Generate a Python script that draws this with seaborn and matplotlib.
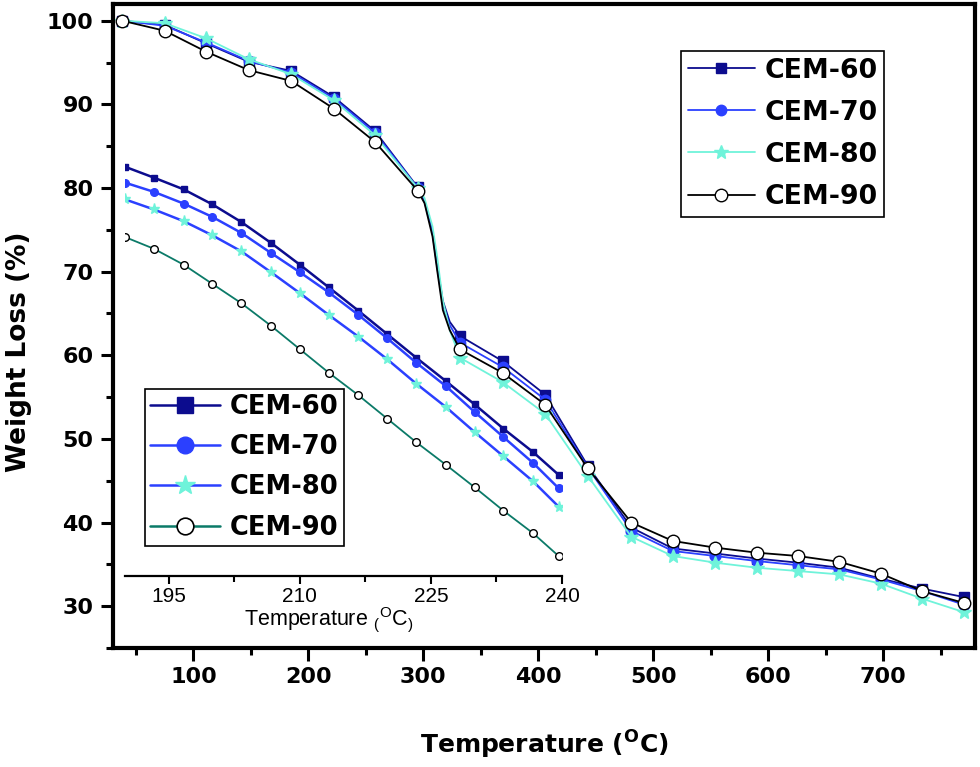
import matplotlib
matplotlib.use('Agg')
import matplotlib.pyplot as plt
import seaborn as sns
from matplotlib.lines import Line2D
from matplotlib.ticker import MultipleLocator

# main TGA curves (temperature in C, weight in %)
temp = [38, 75, 111, 148, 185, 222, 258, 295, 301, 308, 312, 317, 323, 332,
        369, 406, 443, 481, 517, 554, 590, 626, 662, 698, 734, 770]
cem60 = [100, 99.5, 97.3, 95.1, 94.0, 90.9, 86.8, 80.1, 78.5, 74.8, 70.8, 66.5, 64.0, 62.3,
         59.3, 55.3, 46.8, 39.4, 36.9, 36.3, 35.7, 35.2, 34.6, 33.3, 32.1, 31.1]
cem70 = [100, 99.4, 97.4, 95.2, 93.8, 90.7, 86.6, 80.0, 78.4, 74.6, 70.6, 66.0, 63.6, 61.5,
         58.6, 54.7, 46.6, 39.0, 36.6, 36.0, 35.4, 34.9, 34.4, 33.2, 31.8, 30.2]
cem80 = [100, 99.7, 97.9, 95.4, 93.6, 90.5, 86.3, 80.0, 78.8, 75.4, 71.8, 66.5, 63.0, 59.7,
         56.8, 53.0, 45.6, 38.3, 36.0, 35.2, 34.6, 34.2, 33.8, 32.7, 30.9, 29.3]
cem90 = [100, 98.8, 96.3, 94.1, 92.8, 89.5, 85.5, 79.7, 78.2, 74.2, 70.2, 65.4, 63.0, 60.7,
         57.9, 54.1, 46.5, 40.0, 37.8, 37.0, 36.4, 36.0, 35.3, 33.9, 31.8, 30.4]
# points 8-12 only shape the steep drop, they carry no marker
mark_idx = [i for i in range(len(temp)) if not 8 <= i <= 12]

# inset 190-240 C (read against the main y scale)
temp_in = [190, 193.3, 196.7, 200, 203.3, 206.7, 210, 213.3, 216.7, 220,
           223.3, 226.7, 230, 233.3, 236.7, 239.6]
cem60_in = [82.5, 81.2, 79.8, 78.0, 75.9, 73.4, 70.8, 68.1, 65.3, 62.5, 59.7, 56.9, 54.1, 51.2, 48.4, 45.7]
cem70_in = [80.6, 79.5, 78.1, 76.5, 74.6, 72.2, 69.9, 67.5, 64.8, 62.0, 59.1, 56.3, 53.2, 50.2, 47.1, 44.1]
cem80_in = [78.6, 77.4, 76.0, 74.3, 72.4, 69.9, 67.4, 64.8, 62.2, 59.5, 56.6, 53.8, 50.8, 47.9, 44.9, 41.9]
cem90_in = [74.1, 72.7, 70.8, 68.5, 66.2, 63.5, 60.7, 57.9, 55.2, 52.4, 49.6, 46.9, 44.2, 41.4, 38.7, 36.0]

labels = ['CEM-60', 'CEM-70', 'CEM-80', 'CEM-90']
navy = '#0c0c8e'
blue = '#2b40ff'
aqua = '#6ff3da'
teal = '#0b7a68'

sns.set_theme(style='ticks')
plt.rcParams['font.family'] = ['DejaVu Sans']
plt.rcParams['text.color'] = 'black'
plt.rcParams['axes.labelcolor'] = 'black'
plt.rcParams['xtick.color'] = 'black'
plt.rcParams['ytick.color'] = 'black'

fig = plt.figure(figsize=(9.8, 7.67), dpi=100)
ax = fig.add_axes([113 / 980, 1 - 648 / 767, 862 / 980, 644 / 767])

# main plot
main_styles = [
    dict(color=navy, marker='s', markersize=7.5, markerfacecolor=navy, markeredgecolor=navy),
    dict(color=blue, marker='o', markersize=7.5, markerfacecolor=blue, markeredgecolor=blue),
    dict(color=aqua, marker='*', markersize=10, markerfacecolor=aqua, markeredgecolor=aqua),
    dict(color='black', marker='o', markersize=9, markerfacecolor='white', markeredgecolor='black'),
]
for name, vals, st in zip(labels, [cem60, cem70, cem80, cem90], main_styles):
    sns.lineplot(x=temp, y=vals, ax=ax, label=name, linewidth=1.3, markevery=mark_idx,
                 markeredgewidth=1.0, **st)

ax.set_xlim(30, 780)
ax.set_ylim(25, 102)
ax.set_xticks([100, 200, 300, 400, 500, 600, 700])
ax.set_yticks([30, 40, 50, 60, 70, 80, 90, 100])
ax.xaxis.set_minor_locator(MultipleLocator(50))
ax.yaxis.set_minor_locator(MultipleLocator(5))
ax.tick_params(which='major', direction='out', length=9, width=2.2, labelsize=16, pad=5)
ax.tick_params(which='minor', direction='out', length=5, width=2.2)
ax.tick_params(which='both', top=False, right=False)
for lab in ax.get_xticklabels() + ax.get_yticklabels():
    lab.set_fontweight('bold')
for sp in ax.spines.values():
    sp.set_visible(True)
    sp.set_linewidth(3)
    sp.set_color('black')

ax.set_xlabel(r'Temperature ($^{\mathbf{O}}$C)', fontsize=18, fontweight='bold')
ax.set_ylabel('Weight Loss (%)', fontsize=19, fontweight='bold')
ax.xaxis.set_label_coords(0.5, -0.125)
ax.yaxis.set_label_coords(-0.094, 0.46)

leg1 = ax.legend(loc='upper left', bbox_to_anchor=(681 / 980, 1 - 51 / 767),
                 bbox_transform=fig.transFigure, borderaxespad=0,
                 prop={'weight': 'bold', 'size': 19.3}, handlelength=2.5, handletextpad=0.37,
                 borderpad=0.25, labelspacing=0.6, frameon=True, fancybox=False,
                 edgecolor='black', framealpha=1)
leg1.get_frame().set_linewidth(1.2)

# inset
axin = fig.add_axes([125 / 980, 1 - 576 / 767, 437 / 980, 426 / 767])
axin.set_facecolor('none')
in_styles = [
    dict(color=navy, marker='s', markersize=5, markerfacecolor=navy, markeredgecolor=navy,
         linewidth=1.8),
    dict(color=blue, marker='o', markersize=5.5, markerfacecolor=blue, markeredgecolor=blue,
         linewidth=1.8),
    dict(color=blue, marker='*', markersize=8, markerfacecolor=aqua, markeredgecolor=aqua,
         linewidth=1.8),
    dict(color=teal, marker='o', markersize=5.5, markerfacecolor='white', markeredgecolor='black',
         linewidth=1.3),
]
for name, vals, st in zip(labels, [cem60_in, cem70_in, cem80_in, cem90_in], in_styles):
    sns.lineplot(x=temp_in, y=vals, ax=axin, legend=False, markeredgewidth=1.0, **st)

axin.set_xlim(190, 240)
axin.set_ylim(33.6, 84.5)
axin.set_xticks([195, 210, 225, 240])
axin.xaxis.set_minor_locator(MultipleLocator(7.5))
axin.set_yticks([])
for side in ['left', 'top', 'right']:
    axin.spines[side].set_visible(False)
axin.spines['bottom'].set_linewidth(1.6)
axin.spines['bottom'].set_color('black')
axin.tick_params(which='major', direction='out', length=6, width=1.5, labelsize=15, pad=2)
axin.tick_params(which='minor', direction='out', length=4, width=1.5)
for lab in axin.get_xticklabels():
    lab.set_family('Liberation Sans')
axin.set_xlabel(r'Temperature $_\mathregular{(}$$^\mathregular{O}$C$_\mathregular{)}$',
                fontsize=15.5, family='Liberation Sans')
axin.xaxis.set_label_coords(0.465, -0.068)

in_handles = [
    Line2D([], [], color=navy, lw=1.8, marker='s', ms=11, mfc=navy, mec=navy),
    Line2D([], [], color=blue, lw=1.8, marker='o', ms=12, mfc=blue, mec=blue),
    Line2D([], [], color=blue, lw=1.8, marker='*', ms=15, mfc=aqua, mec=aqua),
    Line2D([], [], color=teal, lw=1.8, marker='o', ms=12, mfc='white', mec='black', mew=1.2),
]
leg2 = axin.legend(in_handles, labels, loc='upper left', bbox_to_anchor=(145 / 980, 1 - 389 / 767),
                   bbox_transform=fig.transFigure, borderaxespad=0,
                   prop={'weight': 'bold', 'size': 18.5}, handlelength=2.7, handletextpad=0.4,
                   borderpad=0.2, labelspacing=0.55, frameon=True, fancybox=False,
                   edgecolor='black', framealpha=1)
leg2.get_frame().set_linewidth(1.2)

fig.savefig('out.png', dpi=100)
